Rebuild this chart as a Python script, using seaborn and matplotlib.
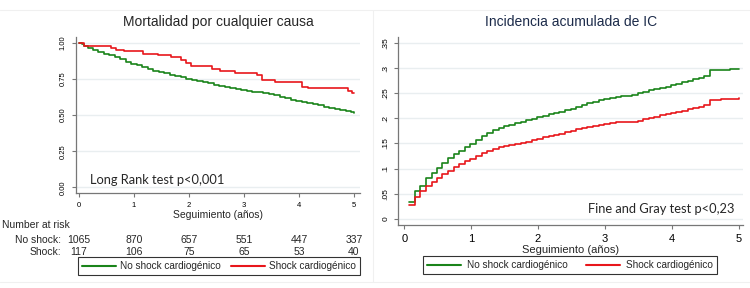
import numpy as np
import pandas as pd
import seaborn as sns
import matplotlib.pyplot as plt
from matplotlib.lines import Line2D
from matplotlib.transforms import blended_transform_factory

# Survival (Kaplan-Meier) - left panel
km_no_t = [0.00, 0.05, 0.10, 0.17, 0.25, 0.35, 0.45, 0.55, 0.65, 0.75, 0.85, 0.95,
           1.05, 1.15, 1.25, 1.35, 1.45, 1.55, 1.65, 1.75, 1.85, 1.95, 2.05, 2.15,
           2.25, 2.35, 2.45, 2.55, 2.65, 2.75, 2.85, 2.95, 3.05, 3.15, 3.25, 3.35,
           3.45, 3.55, 3.65, 3.75, 3.85, 3.95, 4.05, 4.15, 4.25, 4.35, 4.45, 4.55,
           4.65, 4.75, 4.85, 4.95, 5.00]
km_no_s = [1.000, 0.990, 0.980, 0.965, 0.950, 0.935, 0.922, 0.912, 0.898, 0.884, 0.868, 0.856,
           0.843, 0.830, 0.819, 0.807, 0.797, 0.788, 0.779, 0.770, 0.760, 0.752, 0.744, 0.736,
           0.728, 0.718, 0.707, 0.700, 0.692, 0.685, 0.679, 0.672, 0.666, 0.661, 0.656, 0.650,
           0.645, 0.637, 0.626, 0.615, 0.605, 0.598, 0.591, 0.584, 0.577, 0.568, 0.558, 0.548,
           0.540, 0.532, 0.525, 0.518, 0.515]
km_sh_t = [0.00, 0.09, 0.58, 0.67, 0.82, 1.17, 1.44, 1.67, 1.85, 1.94, 2.03, 2.41, 2.56,
           2.84, 3.23, 3.33, 3.56, 4.05, 4.17, 4.90, 4.97, 5.00]
km_sh_s = [1.000, 0.978, 0.960, 0.950, 0.940, 0.922, 0.912, 0.903, 0.880, 0.860, 0.836, 0.820,
           0.803, 0.792, 0.776, 0.743, 0.727, 0.697, 0.684, 0.667, 0.650, 0.650]

# Cumulative incidence of HF - right panel
ci_no_t = [0.07, 0.16, 0.24, 0.33, 0.41, 0.49, 0.57, 0.66, 0.74, 0.82, 0.91, 0.99, 1.07,
           1.16, 1.24, 1.32, 1.41, 1.49, 1.57, 1.66, 1.74, 1.82, 1.91, 1.99, 2.07, 2.16,
           2.24, 2.32, 2.41, 2.49, 2.57, 2.66, 2.74, 2.82, 2.91, 2.99, 3.07, 3.16, 3.24,
           3.41, 3.49, 3.57, 3.66, 3.74, 3.82, 3.91, 3.99, 4.07, 4.16, 4.24, 4.32, 4.41,
           4.49, 4.57, 4.74, 4.87, 5.00]
ci_no_v = [0.033, 0.055, 0.065, 0.081, 0.091, 0.101, 0.111, 0.121, 0.129, 0.135, 0.143, 0.149, 0.156,
           0.165, 0.171, 0.176, 0.180, 0.185, 0.187, 0.190, 0.193, 0.196, 0.199, 0.202, 0.205, 0.208,
           0.211, 0.213, 0.216, 0.219, 0.222, 0.226, 0.230, 0.233, 0.236, 0.238, 0.241, 0.243, 0.245,
           0.247, 0.250, 0.253, 0.256, 0.258, 0.261, 0.263, 0.266, 0.268, 0.272, 0.275, 0.278, 0.281,
           0.285, 0.296, 0.297, 0.298, 0.299]
ci_sh_t = [0.07, 0.16, 0.24, 0.33, 0.41, 0.49, 0.57, 0.66, 0.74, 0.82, 0.91, 0.99, 1.07,
           1.16, 1.24, 1.32, 1.41, 1.49, 1.57, 1.66, 1.74, 1.82, 1.91, 1.99, 2.07, 2.16,
           2.24, 2.32, 2.41, 2.49, 2.57, 2.66, 2.74, 2.82, 2.91, 2.99, 3.07, 3.16, 3.49,
           3.57, 3.66, 3.74, 3.82, 3.91, 3.99, 4.07, 4.16, 4.24, 4.32, 4.41, 4.49, 4.57,
           4.74, 4.87, 5.00]
ci_sh_v = [0.027, 0.043, 0.055, 0.065, 0.073, 0.081, 0.089, 0.096, 0.103, 0.109, 0.115, 0.120, 0.126,
           0.131, 0.136, 0.139, 0.143, 0.145, 0.147, 0.149, 0.151, 0.153, 0.156, 0.159, 0.162, 0.165,
           0.167, 0.169, 0.172, 0.175, 0.178, 0.181, 0.183, 0.185, 0.187, 0.189, 0.191, 0.192, 0.195,
           0.198, 0.201, 0.203, 0.206, 0.208, 0.211, 0.213, 0.215, 0.218, 0.220, 0.223, 0.226, 0.237,
           0.238, 0.239, 0.240]

groups = ["No shock cardiogénico", "Shock cardiogénico"]
risk_years = [0, 1, 2, 3, 4, 5]
risk_no = [1065, 870, 657, 551, 447, 337]
risk_sh = [117, 106, 75, 65, 53, 40]

left_yticks = [0, 0.25, 0.5, 0.75, 1.0]
left_ylabels = ["0.00", "0.25", "0.50", "0.75", "1.00"]
right_yticks = [0, 0.05, 0.1, 0.15, 0.2, 0.25, 0.3, 0.35]
right_ylabels = ["0", ".05", ".1", ".15", ".2", ".25", ".3", ".35"]

km = pd.concat([pd.DataFrame({"t": km_no_t, "v": km_no_s, "g": groups[0]}),
                pd.DataFrame({"t": km_sh_t, "v": km_sh_s, "g": groups[1]})])
ci = pd.concat([pd.DataFrame({"t": ci_no_t, "v": ci_no_v, "g": groups[0]}),
                pd.DataFrame({"t": ci_sh_t, "v": ci_sh_v, "g": groups[1]})])

sns.set_style("ticks")
plt.rcParams['font.family'] = ['Liberation Sans', 'DejaVu Sans']

palette = {groups[0]: "#1a841a", groups[1]: "#e8161b"}
axis_col = "#777777"
grid_col = "#e9eef0"

fig = plt.figure(figsize=(7.5, 2.88), dpi=100)
ax1 = fig.add_axes([0.1013, 0.330, 0.3787, 0.542])
ax2 = fig.add_axes([0.531, 0.219, 0.460, 0.653])

for ax, df in [(ax1, km), (ax2, ci)]:
    sns.lineplot(data=df, x="t", y="v", hue="g", palette=palette, ax=ax,
                 drawstyle="steps-post", estimator=None, sort=False,
                 linewidth=1.2, legend=False)
    ax.set_facecolor("white")
    ax.grid(axis="y", color=grid_col, linewidth=1.0)
    ax.grid(axis="x", visible=False)
    ax.set_axisbelow(True)
    for s in ["top", "right"]:
        ax.spines[s].set_visible(False)
    for s in ["left", "bottom"]:
        ax.spines[s].set_color(axis_col)
        ax.spines[s].set_linewidth(0.9)
    ax.tick_params(colors=axis_col, length=3, width=0.8, direction="out")
    ax.set_ylabel("")

# Left panel
ax1.set_xlim(-0.055, 5.11)
ax1.set_ylim(-0.038, 1.04)
ax1.set_xticks(risk_years)
ax1.set_xticklabels([str(y) for y in risk_years], fontsize=5.5, color="black")
ax1.set_yticks(left_yticks)
ax1.set_yticklabels(left_ylabels, fontsize=5.5, rotation=90, va="center", color="black")
ax1.set_xlabel("Seguimiento (años)", fontsize=7.5, labelpad=1)
ax1.set_title("Mortalidad por cualquier causa", fontsize=10, pad=8)
ax1.text(0.05, 0.08, "Long Rank test p<0,001", transform=ax1.transAxes,
         fontsize=9.3, family=["Lato", "DejaVu Sans"], va="center", ha="left")

# Number at risk table
tr = blended_transform_factory(ax1.transData, fig.transFigure)
fig.text(0.003, 1 - 225 / 288, "Number at risk", fontsize=7.5, va="center")
fig.text(61 / 750, 1 - 240 / 288, "No shock:", fontsize=7.5, va="center", ha="right")
fig.text(61 / 750, 1 - 252 / 288, "Shock:", fontsize=7.5, va="center", ha="right")
for yr, n1, n2 in zip(risk_years, risk_no, risk_sh):
    ax1.text(yr, 1 - 240 / 288, str(n1), transform=tr, fontsize=7.5, ha="center", va="center")
    ax1.text(yr, 1 - 252 / 288, str(n2), transform=tr, fontsize=7.5, ha="center", va="center")

# Right panel
ax2.set_xlim(-0.09, 5.07)
ax2.set_ylim(-0.012, 0.362)
ax2.set_xticks(risk_years)
ax2.set_xticklabels([str(y) for y in risk_years], fontsize=8, color="black")
ax2.set_yticks(right_yticks)
ax2.set_yticklabels(right_ylabels, fontsize=6, rotation=90, va="center", color="black")
ax2.set_xlabel("Seguimiento (años)", fontsize=8, labelpad=1)
ax2.set_title("Incidencia acumulada de IC", fontsize=10, pad=8, color="#1c2b4a")
ax2.text(0.975, 0.085, "Fine and Gray test p<0,23", transform=ax2.transAxes,
         fontsize=9.3, family=["Lato", "DejaVu Sans"], va="center", ha="right")

# Legends
handles = [Line2D([], [], color=palette[g], linewidth=1.5) for g in groups]
for cx, cy, cs, tp in [(219 / 750, 1 - 266 / 288, 1.1, 0.4), (570 / 750, 1 - 265 / 288, 1.8, 0.6)]:
    leg = fig.legend(handles, groups, loc="center", bbox_to_anchor=(cx, cy), ncol=2,
                     fontsize=7.2, frameon=True, fancybox=False, edgecolor="black",
                     handlelength=3.4, columnspacing=cs, borderpad=0.4, handletextpad=tp,
                     borderaxespad=0)
    leg.get_frame().set_linewidth(0.8)

# Faint panel borders
for xs, ys in [([0, 1], [1 - 10 / 288, 1 - 10 / 288]), ([373 / 750, 373 / 750], [0.02, 1 - 10 / 288]),
               ([0, 1], [0.02, 0.02])]:
    fig.add_artist(Line2D(xs, ys, transform=fig.transFigure, color="#f0f0f0", linewidth=0.8))

fig.savefig("out.png", dpi=100, facecolor="white")
